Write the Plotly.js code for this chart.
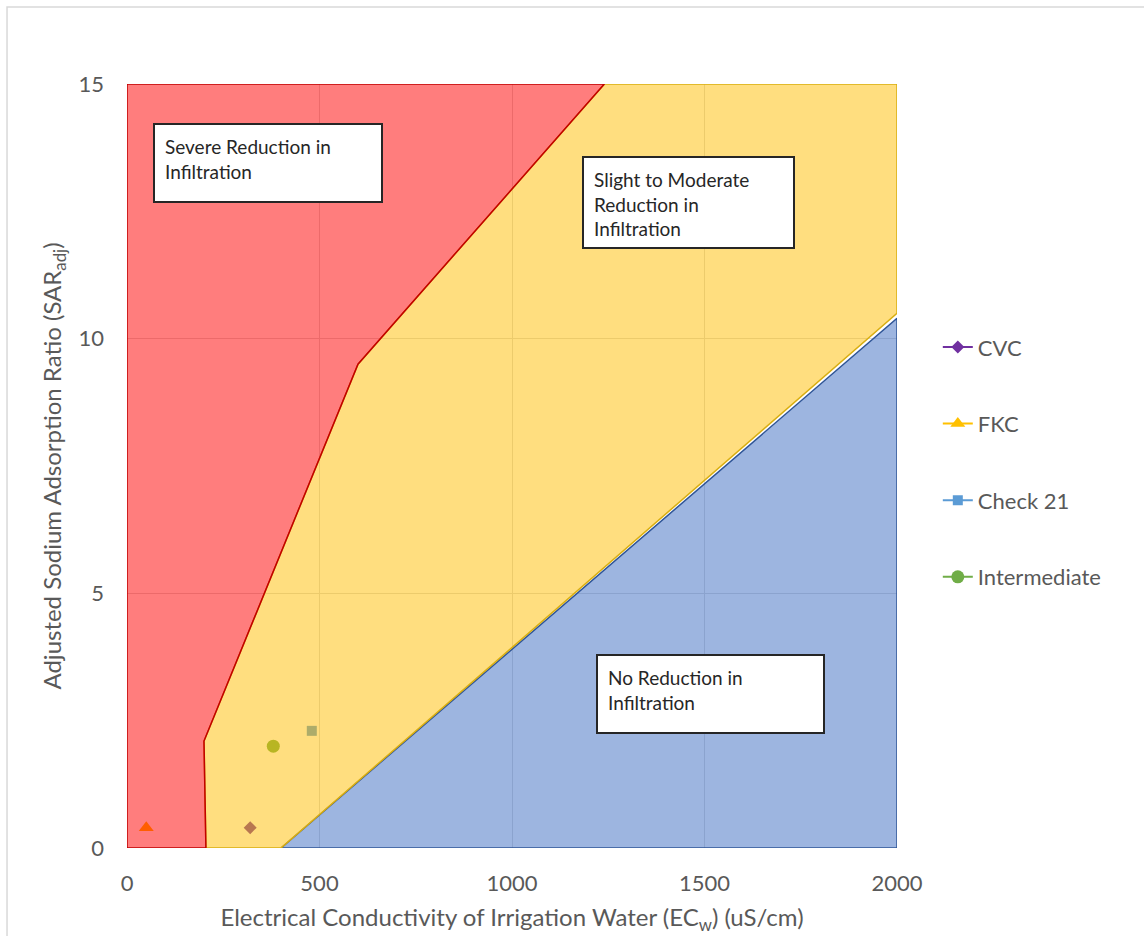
<!DOCTYPE html>
<html>
<head>
<meta charset="utf-8">
<script src="https://cdn.plot.ly/plotly-3.0.1.min.js"></script>
<style>html,body{margin:0;padding:0;background:#fff;}#chart{width:1144px;height:936px;}</style>
</head>
<body>
<div id="chart"></div>
<script>
// Zone boundaries (EC in uS/cm, SAR adj)
const severeX = [0, 0, 1240, 600, 200, 205, 0];
const severeY = [0, 15, 15, 9.5, 2.1, 0, 0];
const moderateX = [205, 200, 600, 1240, 2000, 2000, 400, 205];
const moderateY = [0, 2.1, 9.5, 15, 15, 10.5, 0, 0];
const noneX = [400, 2000, 2000, 400];
const noneY = [0, 10.4, 0, 0];

// Sample points
const seriesNames = ["CVC", "FKC", "Check 21", "Intermediate"];
const seriesEC = [320, 50, 480, 380];
const seriesSAR = [0.4, 0.4, 2.3, 2.0];
const seriesColors = ["#7030A0", "#FFC000", "#5B9BD5", "#70AD47"];
const seriesSymbols = ["diamond", "triangle-up", "square", "circle"];
const seriesSizes = [10, 13, 10, 13];

const xTicks = [0, 500, 1000, 1500, 2000];
const yTicks = [0, 5, 10, 15];

const traces = [];
seriesNames.forEach((n, i) => {
  traces.push({
    type: "scatter", mode: "lines+markers", name: n,
    x: [seriesEC[i]], y: [seriesSAR[i]],
    legendgroup: "g" + i,
    line: {color: seriesColors[i], width: 2},
    marker: {color: seriesColors[i], symbol: seriesSymbols[i], size: seriesSizes[i]}
  });
});
traces.push({type: "scatter", mode: "lines", x: noneX, y: noneY, fill: "toself",
  fillcolor: "rgba(68,114,196,0.52)", line: {color: "#2F5597", width: 1.5}, showlegend: false, hoverinfo: "skip"});
traces.push({type: "scatter", mode: "lines", x: moderateX, y: moderateY, fill: "toself",
  fillcolor: "rgba(255,190,0,0.5)", line: {color: "#D9AE10", width: 1.5}, showlegend: false, hoverinfo: "skip"});
traces.push({type: "scatter", mode: "lines", x: severeX, y: severeY, fill: "toself",
  fillcolor: "rgba(255,0,0,0.51)", line: {color: "#C00000", width: 1.5}, showlegend: false, hoverinfo: "skip"});

const fontFam = "Lato, 'Open Sans', sans-serif";
const boxFont = {family: fontFam, size: 19, color: "#262626"};
function box(x, y, text, w, h) {
  return {x: x, y: y, xref: "x", yref: "y", xanchor: "left", yanchor: "top",
    text: text, showarrow: false, align: "left", valign: "top",
    width: w, height: h, borderpad: 10, bgcolor: "#ffffff",
    bordercolor: "#262626", borderwidth: 2, font: boxFont};
}

const layout = {
  width: 1144, height: 936,
  margin: {l: 127, r: 247, t: 84, b: 88},
  paper_bgcolor: "#ffffff", plot_bgcolor: "#ffffff",
  font: {family: fontFam, color: "#595959"},
  showlegend: true,
  legend: {x: 1.053, y: 0.683, xanchor: "left", yanchor: "top",
    font: {family: fontFam, size: 22, color: "#595959"},
    traceorder: "grouped", tracegroupgap: 45, bgcolor: "rgba(0,0,0,0)"},
  xaxis: {range: [0, 2000], tickvals: xTicks, showgrid: true, gridcolor: "#D9D9D9",
    zeroline: false, showline: false, ticks: "", ticklabelstandoff: 20,
    tickfont: {size: 22, color: "#595959"},
    title: {text: "Electrical Conductivity of Irrigation Water (EC<sub>w</sub>) (uS/cm)",
      font: {size: 24, color: "#595959"}, standoff: 14}},
  yaxis: {range: [0, 15], tickvals: yTicks, showgrid: true, gridcolor: "#D9D9D9",
    zeroline: false, showline: false, ticks: "", ticklabelstandoff: 22,
    tickfont: {size: 22, color: "#595959"},
    title: {text: "Adjusted Sodium Adsorption Ratio (SAR<sub>adj</sub>)",
      font: {size: 24, color: "#595959"}, standoff: 10}},
  annotations: [
    box(67, 14.24, "Severe Reduction in<br>Infiltration", 206, 56),
    box(1183, 13.59, "Slight to Moderate<br>Reduction in<br>Infiltration", 189, 69),
    box(1218, 3.8, "No Reduction in<br>Infiltration", 205, 56)
  ],
  shapes: [
    {type: "rect", xref: "paper", yref: "paper", x0: -0.1558, x1: 1.34, y0: -0.13, y1: 1.1008,
      line: {color: "#D9D9D9", width: 1.5}, fillcolor: "rgba(0,0,0,0)", layer: "below"}
  ]
};

Plotly.newPlot("chart", traces, layout, {displayModeBar: false, staticPlot: true});
</script>
</body>
</html>
